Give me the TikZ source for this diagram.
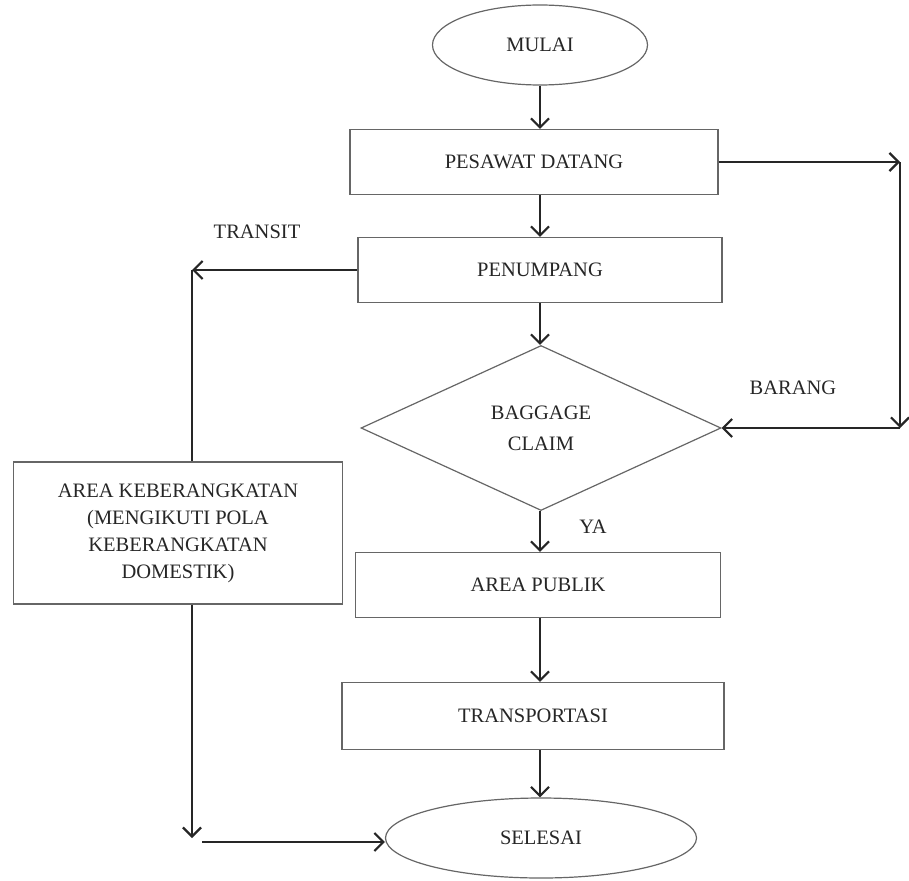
\documentclass[tikz,border=0pt]{standalone}
\usepackage{fontspec}
\setmainfont{Liberation Serif}
\usetikzlibrary{positioning}
\usetikzlibrary{shapes.geometric}
\usetikzlibrary {arrows.meta}
\tikzset{flowbox/.style={rectangle,draw=black!60,line width=1.2pt,fill=white,
inner sep=2pt,minimum height=65pt, minimum width=365pt}}
\tikzset{flowend/.style={ellipse,draw=black!60,line width=1.2pt,fill=white,
inner sep=2pt,minimum height=80pt}}
\tikzset{flowask/.style={diamond,draw=black!60,line width=1.2pt,fill=white,
inner sep=0pt,aspect=2.18,minimum width=360pt,minimum height=165pt,align=center}}
\tikzset{flowarrow/.style={line width=2.6pt,draw=black!85,-{Straight Barb[length=9pt,width=18pt,line width=2.2pt]}}}
\tikzset{flowline/.style={line width=2.6pt,draw=black!85}}
\tikzset{flowlabel/.style={draw=none,inner sep=0pt}}

\begin{document}
\begin{tikzpicture}[x=1pt,y=1pt,font=\fontsize{20.5}{27}\selectfont,text=black!85]
        \useasboundingbox (0,0) rectangle (909,-880);

        \node[flowend, minimum width=215pt] (mulai) at (540,-45) {MULAI};
        \node[flowbox, minimum width=368pt] (datang) at (534,-162) {PESAWAT DATANG};
        \node[flowbox, minimum width=364pt] (penumpang) at (540,-270) {PENUMPANG};
        \node[flowask] (claim) at (541,-428) {BAGGAGE\\[4pt]CLAIM};
        \node[flowbox] (publik) at (538,-585) {AREA PUBLIK};
        \node[flowbox, minimum width=382pt, minimum height=67pt] (transport) at (533,-716) {TRANSPORTASI};
        \node[flowend, minimum width=311pt] (selesai) at (541,-838) {SELESAI};
        \node[flowbox, minimum width=329pt, minimum height=142pt, align=center] (keberangkatan) at (178,-533)
            {AREA KEBERANGKATAN\\(MENGIKUTI POLA\\KEBERANGKATAN\\DOMESTIK)};

        \node[flowlabel] (transit) at (257,-232) {TRANSIT};
        \node[flowlabel] (barang) at (793,-388) {BARANG};
        \node[flowlabel] (ya) at (593,-527) {YA};

        \coordinate (tr) at (900,-162);
        \coordinate (br) at (900,-428);
        \coordinate (tl) at (192,-270);
        \coordinate (bl) at (192,-838);
        \coordinate (blr) at (202,-842);

        % main column
        \draw[flowarrow] (mulai.south -| 540,0) -- (datang.north -| 540,0);
        \draw[flowarrow] (datang.south -| 540,0) -- (penumpang.north);
        \draw[flowarrow] (penumpang.south) -- (claim.north -| penumpang.south);
        \draw[flowarrow] (claim.south -| 540,0) -- (publik.north -| 540,0);
        \draw[flowarrow] (publik.south -| 540,0) -- (transport.north -| 540,0);
        \draw[flowarrow] (transport.south -| 540,0) -- (selesai.north -| 540,0);

        % barang
        \draw[flowarrow] (datang.east) -- (tr);
        \draw[flowarrow] (tr) -- (br);
        \draw[flowarrow] (br) -- (claim.east);

        % transit
        \draw[flowarrow] (penumpang.west) -- (tl);
        \draw[flowline] (tl) -- (tl |- keberangkatan.north);
        \draw[flowarrow] (tl |- keberangkatan.south) -- (bl);
        \draw[flowarrow] (blr) -- (blr -| selesai.west);
\end{tikzpicture}
\end{document}
